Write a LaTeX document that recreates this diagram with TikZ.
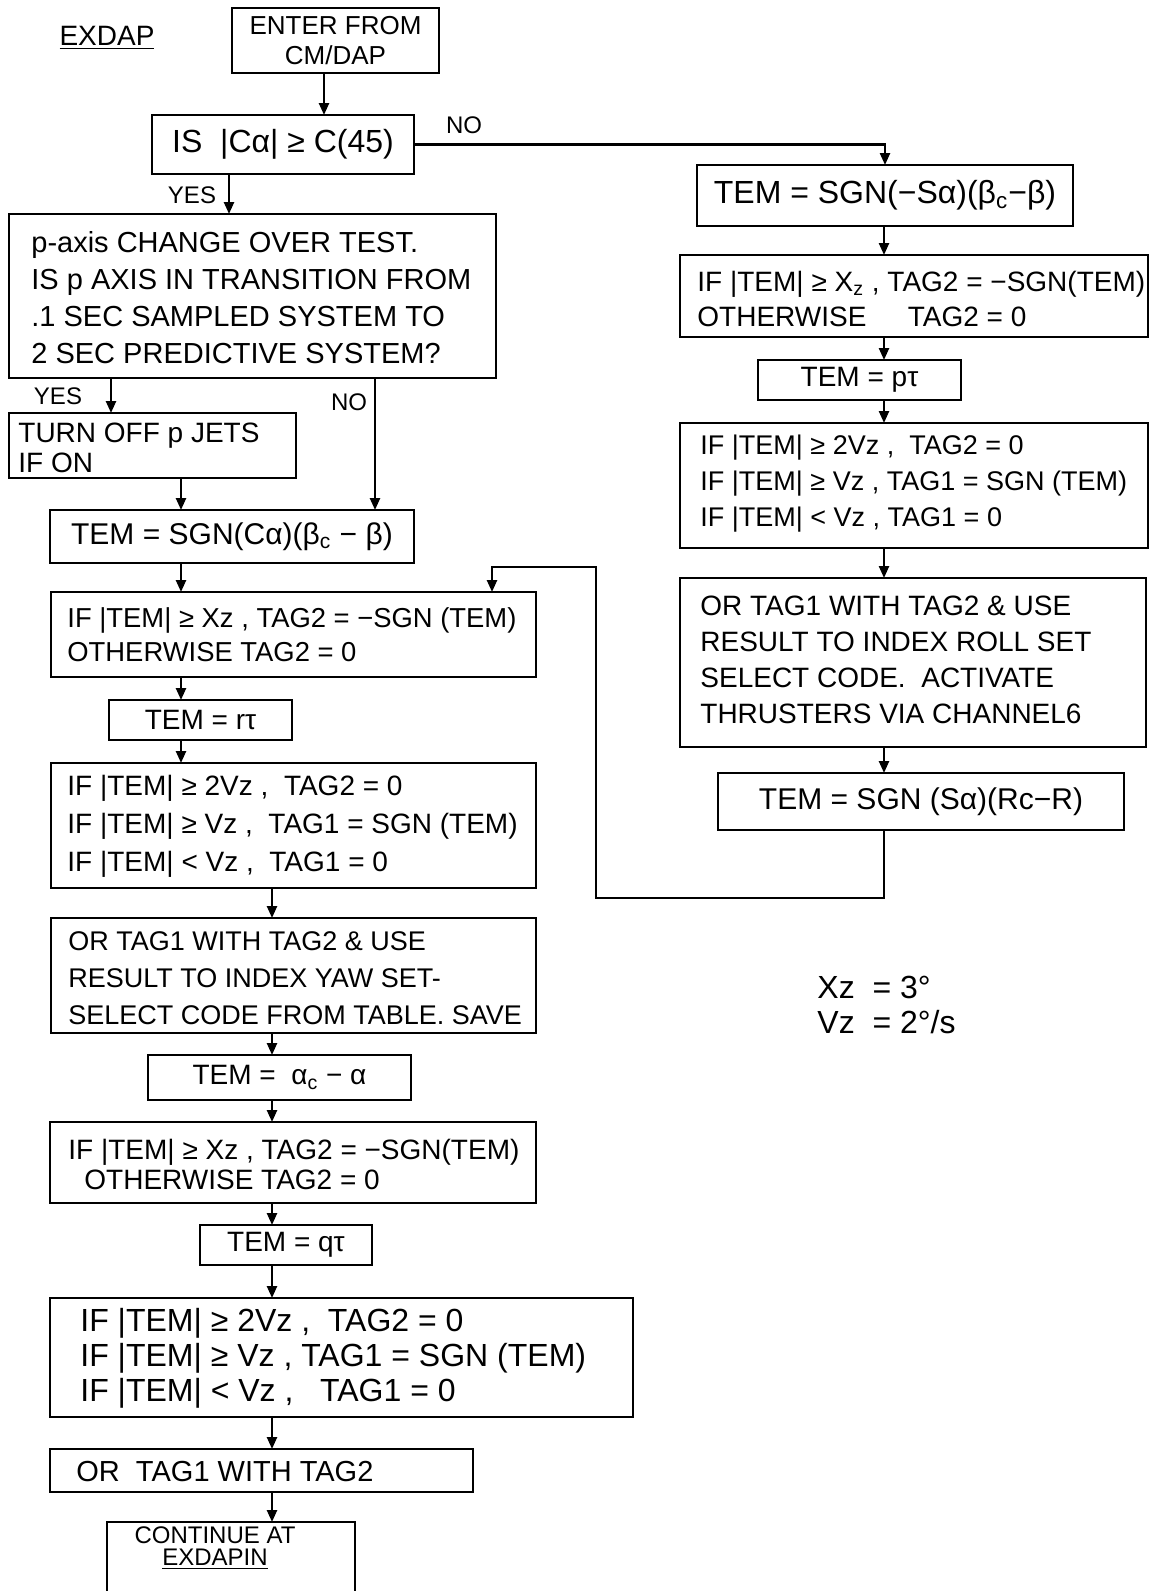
\documentclass[tikz,border=0pt]{standalone}
\usepackage{fontspec}
\setmainfont{Liberation Sans}
\usetikzlibrary{arrows.meta}
\begin{document}
\begin{tikzpicture}[x=0.5pt,y=-0.5pt,
  box/.style={draw, line width=1.3pt, inner sep=0pt, outer sep=0pt, align=center, font=\fontsize{14}{19}\selectfont},
  txt/.style={inner sep=0pt, anchor=west, align=left, font=\fontsize{14}{19}\selectfont},
  lbl/.style={inner sep=0pt, font=\fontsize{12}{14}\selectfont},
  arr/.style={line width=1.2pt, -{Triangle[length=6pt,width=5pt]}},
  ln/.style={line width=1.2pt},
]
\useasboundingbox (0,0) rectangle (1151,1591);
% column coordinates
\coordinate (c1) at (324,0);
\coordinate (c2) at (229,0);
\coordinate (cY) at (111,0);
\coordinate (cN) at (375,0);
\coordinate (cA) at (181,0);
\coordinate (cB) at (272,0);
\coordinate (cR) at (884,0);
% labels
\node[lbl, font=\fontsize{14}{16}\selectfont] (title) at (107,38) {\underline{EXDAP}};
\node[lbl] (no1) at (464,125) {NO};
\node[lbl] (yes1) at (192,195) {YES};
\node[lbl] (yes2) at (58,396) {YES};
\node[lbl] (no2) at (349,402) {NO};
% left column
\node[box, minimum width=103.5pt, minimum height=32.5pt, font=\fontsize{13}{15}\selectfont] (enter) at (335.5,40.5) {ENTER FROM\\CM/DAP};
\node[box, minimum width=131pt, minimum height=29.5pt, font=\fontsize{16}{19}\selectfont] (is) at (283,144.5) {IS \ |Cα| ≥ C(45)};
\node[box, minimum width=243.5pt, minimum height=82pt] (paxis) at (252.5,296) {};
\node[txt, font=\fontsize{14.5}{18.5}\selectfont] (paxist) at (31,298) {p-axis CHANGE OVER TEST.\\IS p AXIS IN TRANSITION FROM\\.1 SEC SAMPLED SYSTEM TO\\2 SEC PREDICTIVE SYSTEM?};
\node[box, minimum width=143.5pt, minimum height=32.5pt] (turnoff) at (152.5,445.5) {};
\node[txt, font=\fontsize{14}{15}\selectfont] (turnofft) at (18,448) {TURN OFF p JETS\\IF ON};
\node[box, minimum width=182pt, minimum height=26.5pt, font=\fontsize{15}{19}\selectfont] (tem1) at (232,536.5) {TEM = SGN(Cα)(β\textsubscript{c} − β)};
\node[box, minimum width=242.5pt, minimum height=42.5pt] (if1) at (293.5,634.5) {};
\node[txt, font=\fontsize{13.7}{17}\selectfont] (if1t) at (67,635) {IF |TEM| ≥ Xz , TAG2 = −SGN (TEM)\\OTHERWISE TAG2 = 0};
\node[box, minimum width=91.5pt, minimum height=20pt] (rt) at (200.5,720) {TEM = rτ};
\node[box, minimum width=242.5pt, minimum height=62.5pt] (if2) at (293.5,825.5) {};
\node[txt] (if2t) at (67,826) {IF |TEM| ≥ 2Vz , \ TAG2 = 0\\IF |TEM| ≥ Vz , \ TAG1 = SGN (TEM)\\IF |TEM| < Vz , \ TAG1 = 0};
\node[box, minimum width=242.5pt, minimum height=57.5pt] (or1) at (293.5,975.5) {};
\node[txt, font=\fontsize{13.5}{18.5}\selectfont] (or1t) at (68,978) {OR TAG1 WITH TAG2 \&{} USE\\RESULT TO INDEX YAW SET-\\SELECT CODE FROM TABLE. SAVE};
\node[box, minimum width=131.5pt, minimum height=22.5pt] (ac) at (279.5,1077.5) {TEM = \ α\textsubscript{c} − α};
\node[box, minimum width=243pt, minimum height=40.5pt] (if3) at (293,1162.5) {};
\node[txt, font=\fontsize{14}{15}\selectfont] (if3t) at (68,1164) {IF |TEM| ≥ Xz , TAG2 = −SGN(TEM)\\\hspace*{8pt}OTHERWISE TAG2 = 0};
\node[box, minimum width=86pt, minimum height=20pt] (qt) at (286,1245) {TEM = qτ};
\node[box, minimum width=291.5pt, minimum height=59.5pt] (if4) at (341.5,1357.5) {};
\node[txt, font=\fontsize{16}{17.5}\selectfont] (if4t) at (80,1358) {IF |TEM| ≥ 2Vz , \ TAG2 = 0\\IF |TEM| ≥ Vz , TAG1 = SGN (TEM)\\IF |TEM| < Vz , \ \ TAG1 = 0};
\node[box, minimum width=211.5pt, minimum height=21.5pt] (or2) at (261.5,1470.5) {};
\node[txt, font=\fontsize{14.5}{19}\selectfont] (or2t) at (76,1471) {OR \ TAG1 WITH TAG2};
\node[inner sep=0pt, outer sep=0pt, minimum width=124pt, minimum height=34.5pt, anchor=north west] (cont) at (107,1522) {};
\draw[ln] (cont.south west) -- (cont.north west) -- (cont.north east) -- (cont.south east);
\node[inner sep=0pt, align=center, font=\fontsize{12}{11}\selectfont] (contt) at (215,1548) {CONTINUE AT\\\underline{EXDAPIN}};
% right column
\node[box, minimum width=188pt, minimum height=30.5pt, font=\fontsize{16}{19}\selectfont] (tem2) at (885,195.5) {TEM = SGN(−Sα)(β\textsubscript{c}−β)};
\node[box, minimum width=234pt, minimum height=41pt] (ifr1) at (914,296) {};
\node[txt, font=\fontsize{14}{17.5}\selectfont] (ifr1t) at (697,299) {IF |TEM| ≥ X\textsubscript{z} , TAG2 = −SGN(TEM)\\OTHERWISE \hspace{1.2em}TAG2 = 0};
\node[box, minimum width=101.5pt, minimum height=20pt] (ptau) at (859.5,380) {TEM = pτ};
\node[box, minimum width=234pt, minimum height=62.5pt] (ifr2) at (914,485.5) {};
\node[txt, font=\fontsize{13.5}{18}\selectfont] (ifr2t) at (700,484) {IF |TEM| ≥ 2Vz , \ TAG2 = 0\\IF |TEM| ≥ Vz , TAG1 = SGN (TEM)\\IF |TEM| < Vz , TAG1 = 0};
\node[box, minimum width=233pt, minimum height=84.5pt] (orr) at (913,662.5) {};
\node[txt, font=\fontsize{14}{18}\selectfont] (orrt) at (700,660) {OR TAG1 WITH TAG2 \&{} USE\\RESULT TO INDEX ROLL SET\\SELECT CODE. \ ACTIVATE\\THRUSTERS VIA CHANNEL6};
\node[box, minimum width=203pt, minimum height=28.5pt, font=\fontsize{15}{19}\selectfont] (tem3) at (921,801.5) {TEM = SGN (Sα)(Rc−R)};
% notes
\node[txt, font=\fontsize{16}{17.5}\selectfont] (notes) at (817,1005) {Xz \ = 3°\\Vz \ = 2°/s};
% connectors
\draw[arr] (enter.south -| c1) -- (is.north -| c1);
\draw[arr] (is.south -| c2) -- (paxis.north -| c2);
\draw[arr] (is.east) -| (tem2.north);
\draw[arr] (paxis.south -| cY) -- (turnoff.north -| cY);
\draw[arr] (paxis.south -| cN) -- (tem1.north -| cN);
\draw[arr] (turnoff.south -| cA) -- (tem1.north -| cA);
\draw[arr] (tem1.south -| cA) -- (if1.north -| cA);
\draw[arr] (if1.south -| cA) -- (rt.north -| cA);
\draw[arr] (rt.south -| cA) -- (if2.north -| cA);
\draw[arr] (if2.south -| cB) -- (or1.north -| cB);
\draw[arr] (or1.south -| cB) -- (ac.north -| cB);
\draw[arr] (ac.south -| cB) -- (if3.north -| cB);
\draw[arr] (if3.south -| cB) -- (qt.north -| cB);
\draw[arr] (qt.south -| cB) -- (if4.north -| cB);
\draw[arr] (if4.south -| cB) -- (or2.north -| cB);
\draw[arr] (or2.south -| cB) -- (cont.north -| cB);
\draw[arr] (tem2.south -| cR) -- (ifr1.north -| cR);
\draw[arr] (ifr1.south -| cR) -- (ptau.north -| cR);
\draw[arr] (ptau.south -| cR) -- (ifr2.north -| cR);
\draw[arr] (ifr2.south -| cR) -- (orr.north -| cR);
\draw[arr] (orr.south -| cR) -- (tem3.north -| cR);
\coordinate (lp1) at (884,898);
\coordinate (lp2) at (596,898);
\coordinate (lp3) at (596,567);
\coordinate (lp4) at (492,567);
\draw[arr] (tem3.south -| cR) -- (lp1) -- (lp2) -- (lp3) -- (lp4) -- (if1.north -| lp4);
\end{tikzpicture}
\end{document}
